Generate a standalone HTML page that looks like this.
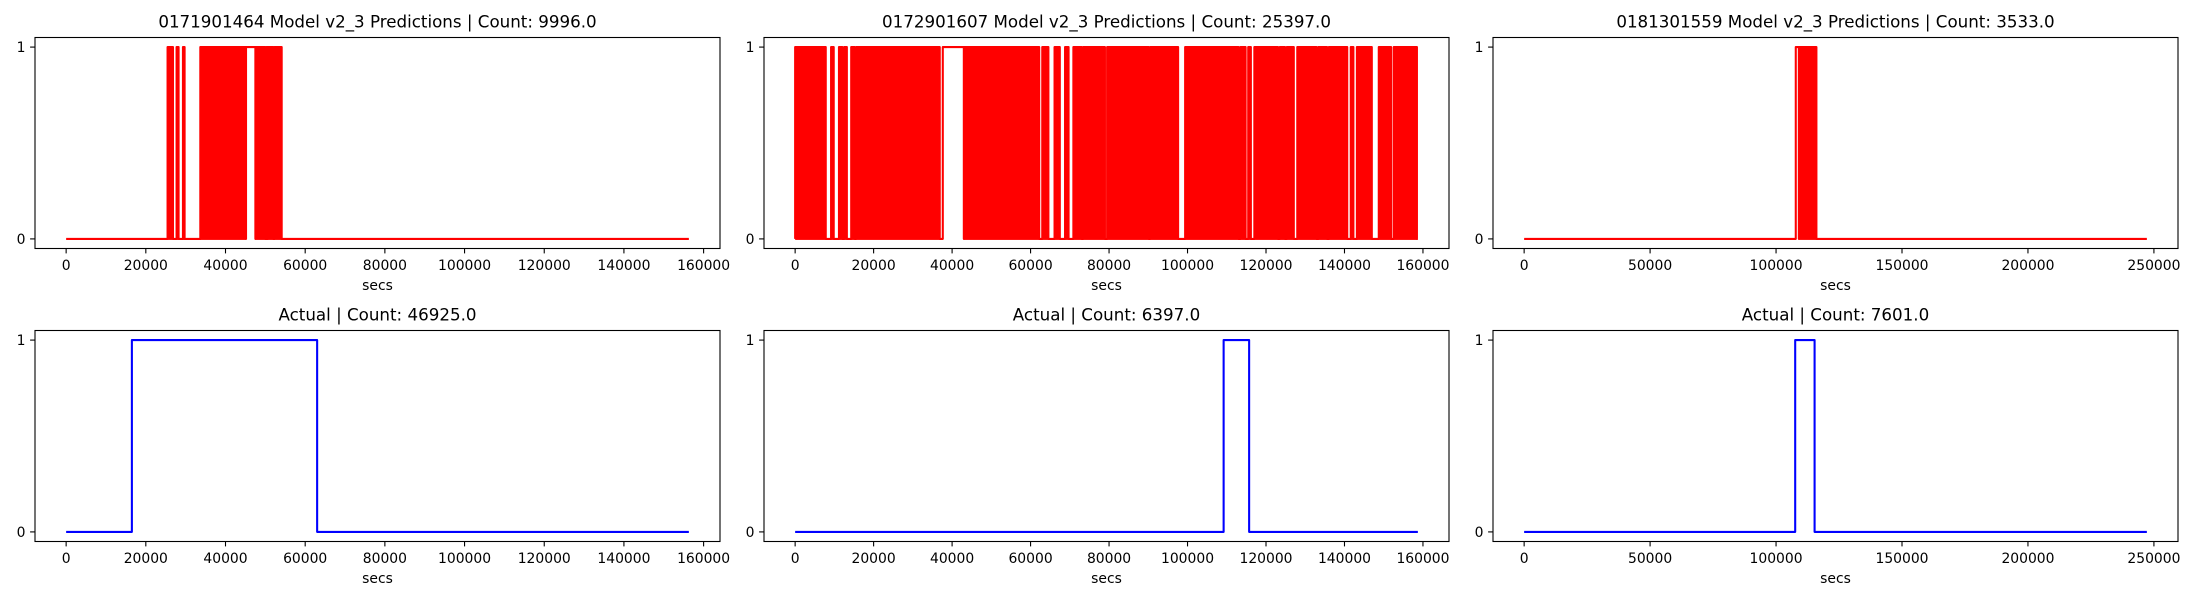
<!DOCTYPE html>
<html><head><meta charset="utf-8"><style>
html,body{margin:0;padding:0;background:#fff;}
svg{display:block;font-family:"DejaVu Sans","Liberation Sans",sans-serif;}
</style></head><body>
<svg id="fig" width="2200" height="600" viewBox="0 0 2200 600" xmlns="http://www.w3.org/2000/svg"></svg>
<script>
// ---- data (secs) ----
const predTitles = ["0171901464 Model v2_3 Predictions | Count: 9996.0","0172901607 Model v2_3 Predictions | Count: 25397.0","0181301559 Model v2_3 Predictions | Count: 3533.0"];
const actualTitles = ["Actual | Count: 46925.0","Actual | Count: 6397.0","Actual | Count: 7601.0"];
const dataEnd = [156300, 158700, 247200];
const xTicks1 = [0,20000,40000,60000,80000,100000,120000,140000,160000];
const xTicks2 = [0,20000,40000,60000,80000,100000,120000,140000,160000];
const xTicks3 = [0,50000,100000,150000,200000,250000];
const yTicks = [0,1];
// prediction pulses: dense toggling blocks and constant-1 intervals
const predDense1 = [[25460,26820],[27720,28220],[29320,29730],[33680,45150],[47500,50000],[50260,50400],[50590,52020],[52270,54100]];
const predOn1 = [[45150,47500]];
const predDense2 = [[0,7800],[9160,9830],[11170,12060],[12510,13180],[14290,15190],[15520,36850],[42990,62200],[62980,64540],[66110,67450],[68790,69680],[70910,73030],[73370,78950],[79510,90120],[90450,97600],[99390,113010],[113460,114800],[115470,116140],[117030,123060],[123510,124850],[125290,127080],[127970,132890],[133330,135570],[136010,140700],[141600,142270],[143160,146960],[148740,151870],[152540,158460]];
const predOn2 = [[37630,42990]];
const predDense3 = [[109050,116020]];
const predOn3 = [[107830,109050]];
// actual label intervals (value 1)
const actual1 = [[16500,63000]];
const actual2 = [[109200,115700]];
const actual3 = [[107600,115300]];

const NS="http://www.w3.org/2000/svg";
const fig=document.getElementById('fig');
function mk(tag,attrs,parent){const e=document.createElementNS(NS,tag);for(const k in attrs)e.setAttribute(k,attrs[k]);(parent||fig).appendChild(e);return e;}

const colLeft=[35,764,1493], W=685, H=211;
const rowTop=[37.5,330.5];
const xTicksAll=[xTicks1,xTicks2,xTicks3];
const preds=[[predDense1,predOn1],[predDense2,predOn2],[predDense3,predOn3]];
const actuals=[actual1,actual2,actual3];

function panel(r,c,title,color,dense,ons){
  const L=colLeft[c],T=rowTop[r],end=dataEnd[c];
  const xmin=-end*0.05,xmax=end*1.05;
  const sx=v=>L+(v-xmin)/(xmax-xmin)*W;
  const sy=v=>T+H-(v+0.05)/1.1*H;
  const g=mk('g',{});
  
  
  // series
  const all=dense.concat(ons).slice().sort((a,b)=>a[0]-b[0]);
  let pts=[[0,0]];
  all.forEach(iv=>{pts.push([iv[0],0],[iv[0],1],[iv[1],1],[iv[1],0]);});
  pts.push([end,0]);
  const line=mk('polyline',{points:pts.map(p=>sx(p[0]).toFixed(2)+','+sy(p[1]).toFixed(2)).join(' '),fill:'none',stroke:color,'stroke-width':2.08,'stroke-linejoin':'round'},g);
  
  
  dense.forEach(iv=>{
    const rc=mk('rect',{x:sx(iv[0]).toFixed(2),y:(sy(1)-1).toFixed(2),width:Math.max(1,sx(iv[1])-sx(iv[0])).toFixed(2),height:(sy(0)-sy(1)+2).toFixed(2),fill:color},g);
    
    
  });
  // frame
  const fr=mk('rect',{x:L,y:T,width:W,height:H,fill:'none',stroke:'#000','stroke-width':1.1},g);
  
  
  // x ticks
  xTicksAll[c].forEach(t=>{
    const x=sx(t);
    mk('line',{x1:x,x2:x,y1:T+H,y2:T+H+4.9,stroke:'#000','stroke-width':1.1},g);
    const tx=mk('text',{x:x,y:T+H+21.5,'font-size':13.9,'text-anchor':'middle',fill:'#000'},g);
    tx.textContent=String(t);
    
    
  });
  yTicks.forEach(t=>{
    const y=sy(t);
    mk('line',{x1:L,x2:L-4.9,y1:y,y2:y,stroke:'#000','stroke-width':1.1},g);
    const tx=mk('text',{x:L-9.5,y:y+5,'font-size':13.9,'text-anchor':'end',fill:'#000'},g);
    tx.textContent=String(t);
    
    
  });
  const xl=mk('text',{x:L+W/2,y:T+H+41.5,'font-size':13.9,'text-anchor':'middle',fill:'#000'},g);
  xl.textContent='secs';
  
  
  const tt=mk('text',{x:L+W/2,y:T-10,'font-size':16.7,'text-anchor':'middle',fill:'#000'},g);
  tt.textContent=title;
  
  
}
for(let c=0;c<3;c++){
  panel(0,c,predTitles[c],'#ff0000',preds[c][0],preds[c][1]);
  panel(1,c,actualTitles[c],'#0000ff',[],actuals[c]);
}
</script>
</body></html>
